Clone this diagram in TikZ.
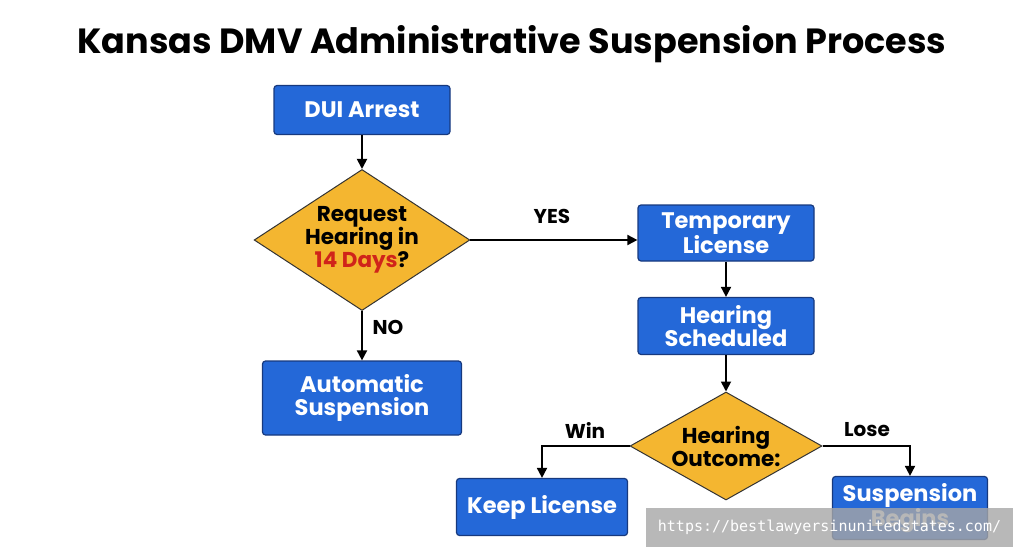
\documentclass[tikz,border=0pt]{standalone}
\usepackage{fontspec}
\setmainfont{Poppins}
\setmonofont{DejaVu Sans Mono}
\usetikzlibrary{shapes.geometric,arrows.meta}
\definecolor{bx}{HTML}{2468D8}
\definecolor{bxd}{HTML}{17397E}
\definecolor{dm}{HTML}{F4B630}
\definecolor{rd}{HTML}{D0241A}
\begin{document}
\begin{tikzpicture}[x=1pt,y=-1pt,
 box/.style={draw=bxd,line width=1.2pt,fill=bx,rounded corners=3pt,text=white,font=\fontsize{22.5}{23}\selectfont\bfseries,align=center,inner sep=0pt},
 dia/.style={diamond,draw=black!80,line width=1pt,fill=dm,font=\fontsize{21.5}{23}\selectfont\bfseries,align=center,inner sep=0pt},
 arr/.style={-{Triangle[length=10pt,width=10pt]},line width=1.8pt},
 lab/.style={font=\fontsize{20}{22}\selectfont\bfseries}]
\useasboundingbox (0,0) rectangle (1024,559);
\node[font=\fontsize{35}{38}\selectfont\bfseries] (title) at (512,44) {Kansas DMV Administrative Suspension Process};
\node[box,minimum width=176pt,minimum height=49pt] (dui) at (362,110) {DUI Arrest};
\node[dia,minimum width=208pt,minimum height=136pt,aspect=1.53] (d1) at (362,240) {Request\\Hearing in\\\textcolor{rd}{14 Days}?};
\node[box,minimum width=176pt,minimum height=56pt] (temp) at (726,233) {Temporary\\License};
\node[box,minimum width=176pt,minimum height=57pt] (hs) at (726,326) {Hearing\\Scheduled};
\node[box,minimum width=199pt,minimum height=74pt] (auto) at (362,398) {Automatic\\Suspension};
\node[dia,minimum width=192pt,minimum height=108pt,aspect=1.78] (d2) at (726,446) {Hearing\\Outcome:};
\node[box,minimum width=171pt,minimum height=57pt] (keep) at (542,507) {Keep License};
\node[box,minimum width=155pt,minimum height=63pt] (susp) at (910,508) {Suspension\\Begins};
\draw[arr] (dui) -- (d1);
\draw[arr] (d1.east) -- (temp.west |- d1.east);
\draw[arr] (d1) -- (auto);
\draw[arr] (temp) -- (hs);
\draw[arr] (hs) -- (d2);
\draw[arr] (d2.west) -| (keep.north);
\draw[arr] (d2.east) -| (susp.north);
\node[lab] (yes) at (552,216) {YES};
\node[lab] (no) at (388,327) {NO};
\node[lab] (win) at (585,430) {Win};
\node[lab] (lose) at (867,430) {Lose};
\node[fill=gray!70,fill opacity=0.8,text opacity=1,text=white,minimum width=367pt,minimum height=39pt,inner sep=0pt,font=\ttfamily\fontsize{15}{16}\selectfont] (wm) at (829.5,527.5) {https://bestlawyersinunitedstates.com/};
\end{tikzpicture}
\end{document}
